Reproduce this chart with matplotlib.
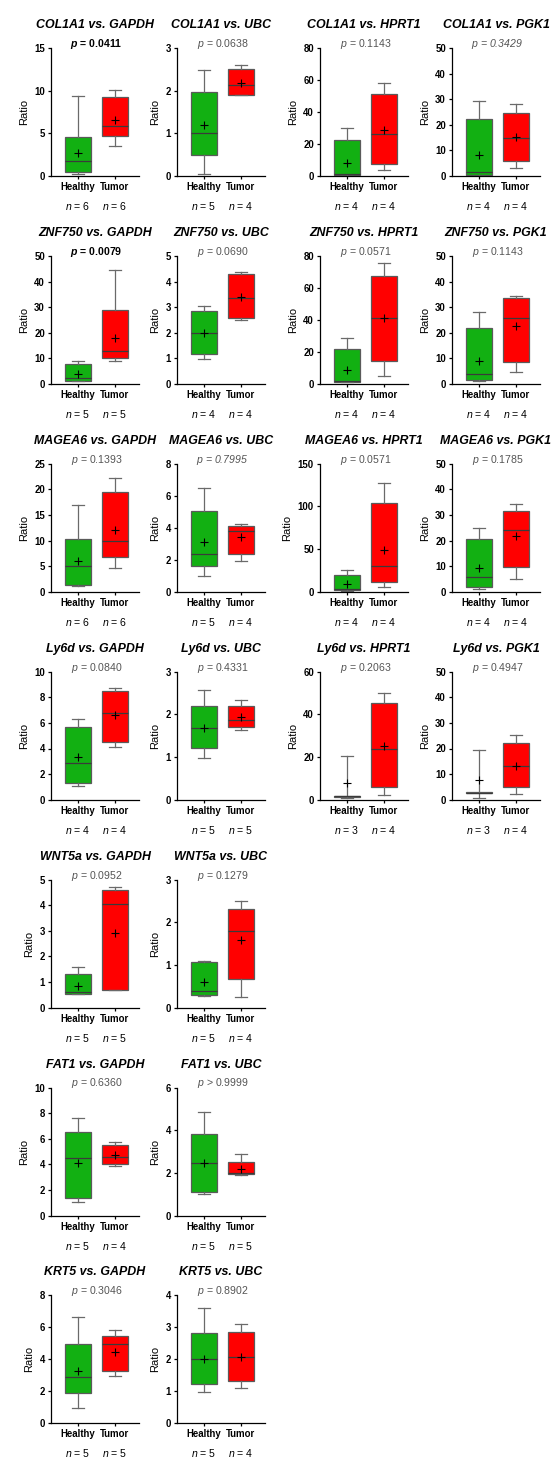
import matplotlib
matplotlib.use("Agg")
import matplotlib.pyplot as plt

plt.rcParams['font.family'] = ['Liberation Sans', 'DejaVu Sans']
plt.rcParams['mathtext.fontset'] = 'custom'
plt.rcParams['mathtext.rm'] = 'Liberation Sans'
plt.rcParams['mathtext.it'] = 'Liberation Sans:italic'
# \mathbf is only used for the bold italic "p" of significant results
plt.rcParams['mathtext.bf'] = 'Liberation Sans:bold:italic'

# Panel titles, row by row
titles = [
    "COL1A1 vs. GAPDH", "COL1A1 vs. UBC", "COL1A1 vs. HPRT1", "COL1A1 vs. PGK1",
    "ZNF750 vs. GAPDH", "ZNF750 vs. UBC", "ZNF750 vs. HPRT1", "ZNF750 vs. PGK1",
    "MAGEA6 vs. GAPDH", "MAGEA6 vs. UBC", "MAGEA6 vs. HPRT1", "MAGEA6 vs. PGK1",
    "Ly6d vs. GAPDH", "Ly6d vs. UBC", "Ly6d vs. HPRT1", "Ly6d vs. PGK1",
    "WNT5a vs. GAPDH", "WNT5a vs. UBC",
    "FAT1 vs. GAPDH", "FAT1 vs. UBC",
    "KRT5 vs. GAPDH", "KRT5 vs. UBC",
]

p_values = [
    "= 0.0411", "= 0.0638", "= 0.1143", "= 0.3429",
    "= 0.0079", "= 0.0690", "= 0.0571", "= 0.1143",
    "= 0.1393", "= 0.7995", "= 0.0571", "= 0.1785",
    "= 0.0840", "= 0.4331", "= 0.2063", "= 0.4947",
    "= 0.0952", "= 0.1279",
    "= 0.6360", "> 0.9999",
    "= 0.3046", "= 0.8902",
]
p_significant = [0, 4]
p_all_italic = [3, 9]

n_healthy = [6, 5, 4, 4, 5, 4, 4, 4, 6, 5, 4, 4, 4, 5, 3, 3, 5, 5, 5, 5, 5, 5]
n_tumor = [6, 4, 4, 4, 5, 4, 4, 4, 6, 4, 4, 4, 4, 5, 4, 4, 5, 4, 4, 5, 5, 4]

# y axis top and tick step per panel
y_max = [15, 3, 80, 50, 50, 5, 80, 50, 25, 8, 150, 50, 10, 3, 60, 50, 5, 3, 10, 6, 8, 4]
y_step = [5, 1, 20, 10, 10, 1, 20, 10, 5, 2, 50, 10, 2, 1, 20, 10, 1, 1, 2, 2, 2, 1]

# (whisker low, q1, median, q3, whisker high, mean)
healthy = [
    (0.2, 0.5, 1.7, 4.6, 9.4, 2.7),
    (0.05, 0.49, 1.0, 1.98, 2.48, 1.19),
    (0.1, 0.4, 1.2, 22.7, 29.8, 8.1),
    (0.1, 0.5, 1.7, 22.3, 29.2, 8.1),
    (1.0, 1.2, 2.35, 7.6, 9.0, 3.9),
    (0.99, 1.16, 2.0, 2.86, 3.04, 2.0),
    (1.0, 1.25, 1.7, 21.9, 28.6, 8.8),
    (1.2, 1.7, 3.7, 21.8, 27.9, 9.0),
    (1.04, 1.24, 4.96, 10.25, 16.9, 6.1),
    (1.0, 1.6, 2.38, 5.07, 6.51, 3.13),
    (1.2, 2.0, 3.1, 20.0, 25.9, 9.0),
    (1.2, 1.7, 5.7, 20.5, 24.9, 9.3),
    (1.05, 1.28, 2.85, 5.7, 6.34, 3.3),
    (0.98, 1.21, 1.67, 2.19, 2.57, 1.67),
    (1.0, 1.2, 1.6, 1.9, 20.3, 7.6),
    (0.8, 2.7, 2.8, 3.0, 19.5, 7.8),
    (0.52, 0.52, 0.6, 1.3, 1.6, 0.85),
    (0.27, 0.29, 0.39, 1.06, 1.1, 0.61),
    (1.04, 1.36, 4.46, 6.5, 7.62, 4.07),
    (0.99, 1.1, 2.45, 3.81, 4.84, 2.46),
    (0.98, 1.88, 2.87, 4.94, 6.62, 3.29),
    (0.99, 1.23, 2.0, 2.83, 3.6, 2.01),
]
tumor = [
    (3.5, 4.7, 5.9, 9.2, 10.1, 6.6),
    (1.9, 1.91, 2.13, 2.51, 2.61, 2.19),
    (3.5, 7.3, 26.5, 51.5, 58.3, 28.5),
    (3.3, 5.9, 14.7, 24.7, 28.3, 15.2),
    (9.1, 10.0, 12.7, 28.9, 44.6, 18.0),
    (2.5, 2.58, 3.37, 4.28, 4.37, 3.41),
    (5.0, 14.4, 41.1, 67.2, 75.8, 41.1),
    (4.7, 8.7, 25.6, 33.7, 34.5, 22.6),
    (4.6, 6.8, 9.86, 19.45, 22.2, 12.1),
    (1.92, 2.36, 3.78, 4.11, 4.22, 3.42),
    (5.5, 11.8, 30.2, 103.8, 127.7, 49.0),
    (5.0, 9.5, 24.2, 31.7, 34.2, 21.8),
    (4.14, 4.48, 6.8, 8.53, 8.7, 6.6),
    (1.63, 1.71, 1.86, 2.19, 2.33, 1.93),
    (2.2, 6.0, 24.0, 45.2, 49.9, 25.0),
    (2.1, 5.0, 13.1, 22.2, 25.2, 13.3),
    (0.67, 0.68, 4.04, 4.58, 4.71, 2.92),
    (0.26, 0.66, 1.8, 2.32, 2.5, 1.58),
    (3.86, 4.05, 4.57, 5.53, 5.74, 4.7),
    (1.91, 1.94, 2.0, 2.49, 2.87, 2.19),
    (2.97, 3.27, 4.96, 5.49, 5.84, 4.46),
    (1.1, 1.34, 2.09, 2.87, 3.1, 2.09),
]

groups = ["Healthy", "Tumor"]
box_colors = ["#12B012", "#FF0000"]

W, H, DPI = 559, 1460, 100
col_left = [51, 177, 320, 452]
row_top = [48 + 207.9 * i for i in range(7)]
ax_w, ax_h = 88, 128
PT = 0.72  # points per pixel


def to_stats(t):
    lo, q1, med, q3, hi, mean = t
    return dict(whislo=lo, q1=q1, med=med, q3=q3, whishi=hi, mean=mean, fliers=[])


def panel_position(i):
    if i < 16:
        r, c = divmod(i, 4)
    else:
        r, c = 4 + (i - 16) // 2, (i - 16) % 2
    return r, c


fig = plt.figure(figsize=(W / DPI, H / DPI), dpi=DPI)

for i, title in enumerate(titles):
    r, c = panel_position(i)
    ax = fig.add_axes([col_left[c] / W, 1 - (row_top[r] + ax_h) / H, ax_w / W, ax_h / H])

    bp = ax.bxp([to_stats(healthy[i]), to_stats(tumor[i])], positions=[1, 2], widths=0.68,
                patch_artist=True, showmeans=True, capwidths=0.34, manage_ticks=False,
                boxprops=dict(edgecolor="#5a5a5a", linewidth=0.9),
                whiskerprops=dict(color="#6a6a6a", linewidth=0.9),
                capprops=dict(color="#6a6a6a", linewidth=0.9),
                medianprops=dict(color="#3a3a3a", linewidth=0.9),
                meanprops=dict(marker="+", markeredgecolor="black", markersize=6,
                               markeredgewidth=0.8))
    for patch, col in zip(bp["boxes"], box_colors):
        patch.set_facecolor(col)

    ax.set_xlim(0.27, 2.65)
    ax.set_ylim(0, y_max[i])
    ax.set_yticks(range(0, y_max[i] + 1, y_step[i]))
    ax.set_xticks([1, 2], groups)
    ax.spines[["top", "right"]].set_visible(False)
    for s in ["left", "bottom"]:
        ax.spines[s].set_linewidth(0.9)
    ax.tick_params(length=3 * PT, width=0.9, pad=2.2, labelsize=6.9)
    for lab in ax.get_xticklabels() + ax.get_yticklabels():
        lab.set_fontweight("bold")
    ax.set_ylabel("Ratio", fontsize=8, labelpad=4)

    ax.annotate(title, xy=(0.5, 1), xycoords="axes fraction", xytext=(0, 23 * PT),
                textcoords="offset points", ha="center", va="center",
                fontsize=8.9, fontweight="bold", fontstyle="italic")

    if i in p_significant:
        ptxt, kw = r"$\mathbf{p}$ " + p_values[i], dict(fontweight="bold", color="black")
    elif i in p_all_italic:
        ptxt, kw = r"$\mathit{p}$ " + p_values[i], dict(fontstyle="italic", color="#555555")
    else:
        ptxt, kw = r"$\mathit{p}$ " + p_values[i], dict(color="#555555")
    ax.annotate(ptxt, xy=(1.5, 1), xycoords=("data", "axes fraction"), xytext=(0, 4 * PT),
                textcoords="offset points", ha="center", va="center", fontsize=7.6, **kw)

    for x, n in zip([1, 2], [n_healthy[i], n_tumor[i]]):
        ax.annotate(r"$\mathit{n}$ = %d" % n, xy=(x, 0), xycoords=("data", "axes fraction"),
                    xytext=(0, -30 * PT), textcoords="offset points",
                    ha="center", va="center", fontsize=7.6)

fig.savefig("out.png", dpi=DPI)
